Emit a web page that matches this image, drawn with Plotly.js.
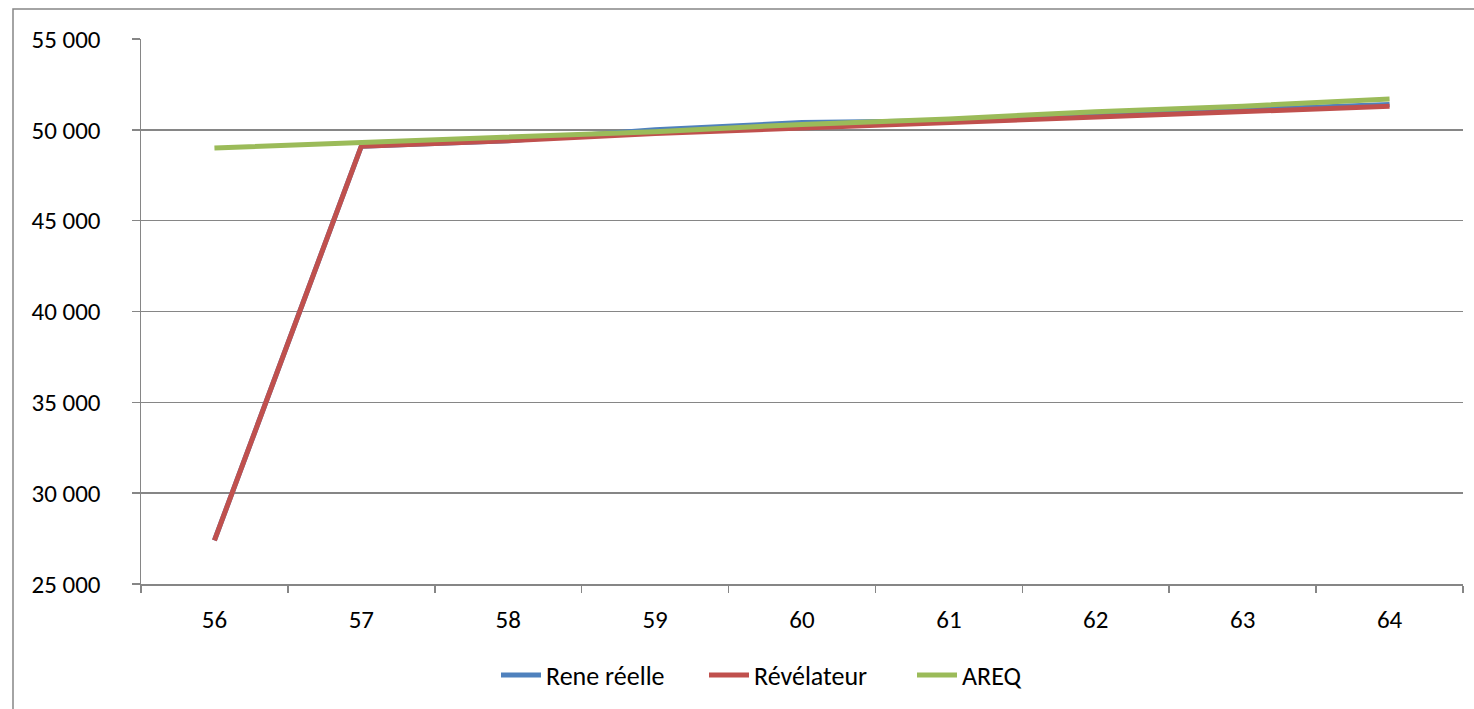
<!DOCTYPE html>
<html>
<head>
<meta charset="utf-8">
<script src="https://cdn.plot.ly/plotly-3.0.1.min.js"></script>
<style>
html,body{margin:0;padding:0;background:#fff;overflow:hidden;}
#chart{width:1474px;height:709px;}
</style>
</head>
<body>
<div id="chart"></div>
<script>
const ages = ["56","57","58","59","60","61","62","63","64"];
const reneReelle = [27400, 49100, 49400, 50000, 50400, 50500, 50800, 51100, 51400];
const revelateur = [27400, 49100, 49400, 49800, 50100, 50400, 50700, 51000, 51300];
const areq = [49000, 49300, 49600, 49900, 50300, 50600, 51000, 51300, 51700];
const yTicks = [25000, 30000, 35000, 40000, 45000, 50000, 55000];

const FONT = "Carlito, Calibri, Lato, 'Open Sans', sans-serif";
const mk = (name, y, color) => ({
  type: "scatter", mode: "lines", name: name, x: ages, y: y,
  line: {color: color, width: 5}, hoverinfo: "skip"
});
const data = [
  mk("Rene réelle", reneReelle, "#4F81BD"),
  mk("Révélateur", revelateur, "#C0504D"),
  mk("AREQ", areq, "#9BBB59")
];
const layout = {
  width: 1474, height: 709,
  margin: {l: 141, r: 11, t: 39, b: 124},
  paper_bgcolor: "#fff", plot_bgcolor: "#fff",
  separators: ", ",
  font: {family: FONT, size: 25, color: "#000"},
  showlegend: true,
  legend: {orientation: "h", x: (496-141)/1322, xanchor: "left", y: -0.165, yanchor: "middle",
           font: {family: FONT, size: 26, color: "#000"}, itemwidth: 40, tracegroupgap: 0,
           entrywidth: 153, entrywidthmode: "pixels"},
  xaxis: {type: "category", range: [-0.5, 8.5], tickson: "boundaries",
          ticks: "outside", ticklen: 7, tickwidth: 1.5, tickcolor: "#868686",
          showline: true, linecolor: "#868686", linewidth: 1.5,
          showgrid: false, zeroline: false, fixedrange: true,
          ticklabelstandoff: 12},
  yaxis: {range: [25000, 55000], tickvals: yTicks, tickformat: ",.0f",
          ticks: "outside", ticklen: 8, tickwidth: 1.5, tickcolor: "#868686",
          showline: true, linecolor: "#868686", linewidth: 1.5,
          showgrid: true, gridcolor: "#868686", gridwidth: 1.5, zeroline: false,
          fixedrange: true, ticklabelstandoff: 26},
  shapes: [{type: "rect", xref: "paper", yref: "paper",
            x0: (13-141)/1322, x1: 1.05, y0: -0.3, y1: (585-9)/546,
            line: {color: "#868686", width: 1.5}, fillcolor: "rgba(0,0,0,0)", layer: "below"}]
};
Plotly.newPlot("chart", data, layout, {displayModeBar: false, staticPlot: true});
</script>
</body>
</html>
